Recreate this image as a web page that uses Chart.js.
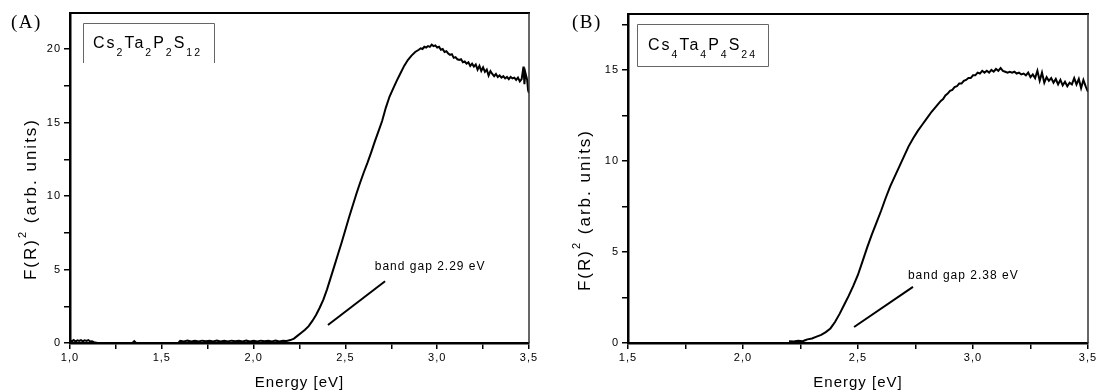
<!DOCTYPE html>
<html><head><meta charset="utf-8">
<script src="https://cdn.jsdelivr.net/npm/chart.js@4.4.1/dist/chart.umd.min.js"></script>
<style>
html,body{margin:0;padding:0;background:#fff;width:1096px;height:392px;overflow:hidden;}
canvas{position:absolute;top:0;}
</style></head><body>
<canvas id="cA" width="548" height="392" style="left:0px"></canvas>
<canvas id="cB" width="548" height="392" style="left:548px"></canvas>
<script>
// ---------- DATA ----------
const energyA = [1.00,1.01,1.02,1.03,1.04,1.05,1.06,1.07,1.08,1.09,1.10,1.11,1.12,1.13,1.15,1.25,1.34,1.35,1.36,1.45,1.59,
 1.60,1.62,1.64,1.66,1.68,1.70,1.72,1.74,1.76,1.78,1.80,1.82,1.84,1.86,1.88,1.90,1.92,1.94,1.96,1.98,2.00,2.02,2.04,2.06,2.08,2.10,2.12,2.14,2.16,2.18,
 2.20,2.22,2.24,2.26,2.28,2.30,2.32,2.34,2.36,2.38,2.40,2.42,2.44,2.46,2.48,2.50,2.52,2.54,2.56,2.58,2.60,2.62,2.64,2.66,2.68,2.70,2.72,2.74,2.76,2.78,2.80,2.82,2.84,2.86,2.88,2.90,
 2.91,2.92,2.93,2.94,2.95,2.96,2.97,2.98,2.99,3.00,3.01,3.02,3.03,3.04,3.05,3.06,3.07,3.08,3.09,3.10,3.11,3.12,3.13,3.14,3.15,3.16,3.17,3.18,3.19,3.20,
 3.21,3.22,3.23,3.24,3.25,3.26,3.27,3.28,3.29,3.30,3.31,3.32,3.33,3.34,3.35,3.36,3.37,3.38,3.39,3.40,3.41,3.42,3.43,3.44,3.45,3.46,3.47,3.475,3.48,3.49,3.495,3.50];
const fA = [0.18,0.12,0.2,0.1,0.18,0.14,0.2,0.12,0.18,0.14,0.2,0.1,0.12,0.06,0.0,0.0,0.0,0.12,0.0,0.0,0.0,
 0.14,0.1,0.16,0.11,0.15,0.1,0.16,0.12,0.15,0.1,0.16,0.11,0.15,0.1,0.16,0.12,0.15,0.1,0.16,0.11,0.15,0.1,0.16,0.12,0.15,0.1,0.16,0.11,0.15,0.14,
 0.2,0.3,0.5,0.7,0.9,1.15,1.5,1.9,2.4,2.95,3.65,4.45,5.25,6.05,6.85,7.7,8.55,9.35,10.15,10.9,11.6,12.25,12.95,13.7,14.4,15.1,16.0,16.75,17.3,17.85,18.35,18.85,19.25,19.55,19.8,19.95,
 20.05,20.0,20.15,20.1,20.2,20.15,20.3,20.2,20.25,20.1,20.15,19.95,20.0,19.8,19.85,19.7,19.6,19.65,19.4,19.45,19.3,19.25,19.3,19.1,19.15,19.0,19.1,18.85,19.0,18.8,
 18.95,18.6,18.85,18.5,18.75,18.45,18.6,18.2,18.5,18.3,18.15,18.3,18.1,18.2,18.05,18.15,18.0,18.1,17.95,18.1,18.0,18.05,17.9,18.05,17.8,17.95,18.8,17.6,18.4,17.9,17.2,17.0];

const energyB = [2.20,2.22,2.24,2.26,2.27,2.28,2.30,2.32,2.34,2.36,2.38,2.40,2.42,2.44,2.46,2.48,2.50,2.52,2.54,2.56,2.58,2.60,2.62,2.64,2.66,2.68,2.70,2.72,2.74,2.76,2.78,2.80,2.82,2.84,2.86,
 2.87,2.88,2.89,2.90,2.91,2.92,2.93,2.94,2.95,2.96,2.97,2.98,2.99,3.00,3.01,3.02,3.03,3.04,3.05,3.06,3.07,3.08,3.09,3.10,3.11,3.12,3.13,3.14,3.15,3.16,3.17,3.18,3.19,3.20,
 3.21,3.22,3.23,3.24,3.25,3.26,3.27,3.28,3.29,3.30,3.31,3.32,3.33,3.34,3.35,3.36,3.37,3.38,3.39,3.40,3.41,3.42,3.43,3.44,3.45,3.46,3.47,3.48,3.49,3.50];
const fB = [0.1,0.08,0.12,0.1,0.15,0.2,0.25,0.35,0.45,0.6,0.8,1.15,1.6,2.1,2.6,3.15,3.75,4.5,5.25,5.95,6.6,7.25,7.95,8.6,9.15,9.7,10.25,10.8,11.25,11.65,12.0,12.35,12.7,13.0,13.3,
 13.4,13.6,13.7,13.85,13.9,14.05,14.1,14.25,14.25,14.4,14.45,14.55,14.55,14.7,14.7,14.85,14.8,14.95,14.85,14.95,14.85,15.0,14.9,15.05,14.95,15.1,14.95,14.9,14.85,14.9,14.85,14.9,14.8,14.85,
 14.75,14.8,14.7,14.85,14.6,14.75,14.55,14.95,14.4,14.85,14.3,14.6,14.4,14.55,14.3,14.5,14.2,14.45,14.15,14.35,14.1,14.3,14.2,14.55,14.2,14.5,14.0,14.45,14.1,13.8];

const xTicksA = [1.0,1.5,2.0,2.5,3.0,3.5];
const xTickLabelsA = ['1,0','1,5','2,0','2,5','3,0','3,5'];
const yTicksA = [0,5,10,15,20];
const yTickLabelsA = ['0','5','10','15','20'];
const xTicksB = [1.5,2.0,2.5,3.0,3.5];
const xTickLabelsB = ['1,5','2,0','2,5','3,0','3,5'];
const yTicksB = [0,5,10,15];
const yTickLabelsB = ['0','5','10','15'];

const formulaA = ['Cs','2','Ta','2','P','2','S','12'];
const formulaB = ['Cs','4','Ta','4','P','4','S','24'];
const bandGapA = 'band gap 2.29 eV';
const bandGapB = 'band gap 2.38 eV';
const xTitle = 'Energy [eV]';
const yTitleParts = ['F(R)','2',' (arb. units)'];

// ---------- CHART ----------
const SANS = '"Liberation Sans", Arial, sans-serif';
function labelFrom(ticks, labels){
  return v => { const i = ticks.findIndex(t => Math.abs(t - v) < 1e-6); return i >= 0 ? labels[i] : ''; };
}
function makeChart(id, p){
  const pts = p.energy.map((e,i)=>({x:e, y:p.values[i]}));
  const decor = {
    id:'decor'+id,
    beforeDraw(chart){ chart.ctx.letterSpacing = '1px'; },
    afterDraw(chart){
      const ctx = chart.ctx, a = chart.chartArea, xs = chart.scales.x, ys = chart.scales.y;
      ctx.save();
      // frame top / right
      ctx.strokeStyle = '#000'; ctx.lineWidth = 2;
      ctx.beginPath(); ctx.moveTo(a.left, a.top); ctx.lineTo(a.right+1, a.top); ctx.stroke();
      ctx.strokeStyle = '#333'; ctx.lineWidth = 1.5;
      ctx.beginPath(); ctx.moveTo(a.right, a.top); ctx.lineTo(a.right, a.bottom); ctx.stroke();
      // panel label
      ctx.letterSpacing = '1.5px';
      ctx.fillStyle = '#000'; ctx.textBaseline = 'alphabetic'; ctx.textAlign = 'left';
      ctx.font = '19px "Liberation Serif", "Times New Roman", serif';
      ctx.fillText(p.panel, p.panelX, 28);
      // formula box
      ctx.strokeStyle = '#666'; ctx.lineWidth = 1;
      const b = p.box;
      ctx.beginPath();
      if (p.boxClosed){ ctx.rect(b[0]+0.5,b[1]+0.5,b[2]-b[0],b[3]-b[1]); }
      else { ctx.moveTo(b[0]+0.5,b[3]); ctx.lineTo(b[0]+0.5,b[1]+0.5); ctx.lineTo(b[2]+0.5,b[1]+0.5); ctx.lineTo(b[2]+0.5,b[3]); }
      ctx.stroke();
      ctx.letterSpacing = '2px';
      let fx = p.formulaX;
      p.formula.forEach((s,i)=>{
        const sub = i % 2 === 1;
        ctx.font = (sub ? '10.5px ' : '16px ') + SANS;
        ctx.fillText(s, fx, sub ? p.formulaY + 8 : p.formulaY);
        fx += ctx.measureText(s).width;
      });
      // band gap annotation (data coordinates)
      ctx.strokeStyle = '#000'; ctx.lineWidth = 2;
      ctx.beginPath();
      ctx.moveTo(xs.getPixelForValue(p.gapLine[0]), ys.getPixelForValue(p.gapLine[1]));
      ctx.lineTo(xs.getPixelForValue(p.gapLine[2]), ys.getPixelForValue(p.gapLine[3]));
      ctx.stroke();
      ctx.letterSpacing = '1px';
      ctx.font = '12px ' + SANS;
      ctx.fillText(p.gapText, xs.getPixelForValue(p.gapTextPos[0]), ys.getPixelForValue(p.gapTextPos[1]));
      // y title, rotated
      ctx.translate(p.yTitleX, p.yTitleY);
      ctx.rotate(-Math.PI/2);
      ctx.letterSpacing = '2px';
      ctx.textBaseline = 'middle';
      const fonts = ['17px '+SANS, '11px '+SANS, '17px '+SANS];
      const offs = [0,-8,0];
      let w = 0;
      yTitleParts.forEach((s,i)=>{ ctx.font = fonts[i]; w += ctx.measureText(s).width; });
      let tx = -w/2;
      yTitleParts.forEach((s,i)=>{ ctx.font = fonts[i]; ctx.fillText(s, tx, offs[i]); tx += ctx.measureText(s).width; });
      ctx.restore();
    }
  };
  return new Chart(document.getElementById(id), {
    type:'line',
    data:{ datasets:[{ data:pts, borderColor:'#000', borderWidth:2, pointRadius:0, tension:0, fill:false }] },
    options:{
      responsive:false, animation:false, devicePixelRatio:1,
      layout:{ padding:{ top:p.padTop, right:p.padRight, bottom:0, left:0 } },
      plugins:{ legend:{display:false}, tooltip:{enabled:false} },
      scales:{
        x:{ type:'linear', min:p.xMin, max:p.xMax,
          ticks:{ stepSize:0.25, autoSkip:false, includeBounds:false, maxRotation:0, padding:2, color:'#000',
            font:{ family:SANS, size:11 }, callback: labelFrom(p.xTicks, p.xLabels) },
          grid:{ drawOnChartArea:false, drawTicks:true, tickLength:6, color:'#000', lineWidth:1.5 },
          border:{ display:true, color:'#000', width:2.5 },
          title:{ display:true, text:xTitle, color:'#000', font:{ family:SANS, size:15 }, padding:{top:0,bottom:0} },
          afterFit(s){ s.height = 49; s.paddingLeft = 0; s.paddingRight = 0; }
        },
        y:{ type:'linear', min:0, max:p.yMax,
          ticks:{ stepSize:2.5, autoSkip:false, includeBounds:false, padding:3, color:'#000',
            font:{ family:SANS, size:11 }, callback: labelFrom(p.yTicks, p.yLabels) },
          grid:{ drawOnChartArea:false, drawTicks:true, tickLength:6, color:'#000', lineWidth:1.5 },
          border:{ display:true, color:'#000', width:2.5 },
          afterFit(s){ s.width = p.yWidth; s.paddingTop = 0; s.paddingBottom = 0; }
        }
      }
    },
    plugins:[decor]
  });
}

makeChart('cA', {
  energy:energyA, values:fA, xMin:1.0, xMax:3.5, yMax:22.45,
  xTicks:xTicksA, xLabels:xTickLabelsA, yTicks:yTicksA, yLabels:yTickLabelsA,
  padTop:13, padRight:19, yWidth:70,
  panel:'(A)', panelX:11,
  box:[83,23,214,63], boxClosed:false, formula:formulaA, formulaX:93, formulaY:48,
  gapLine:[2.405,1.22,2.716,4.2], gapText:bandGapA, gapTextPos:[2.66,4.95],
  yTitleX:31, yTitleY:199
});
makeChart('cB', {
  energy:energyB, values:fB, xMin:1.5, xMax:3.5, yMax:18.07,
  xTicks:xTicksB, xLabels:xTickLabelsB, yTicks:yTicksB, yLabels:yTickLabelsB,
  padTop:14, padRight:8, yWidth:80,
  panel:'(B)', panelX:24,
  box:[89,24,220,66], boxClosed:true, formula:formulaB, formulaX:100, formulaY:50,
  gapLine:[2.483,0.88,2.739,3.08], gapText:bandGapB, gapTextPos:[2.717,3.5],
  yTitleX:37, yTitleY:210
});
</script>
</body></html>
